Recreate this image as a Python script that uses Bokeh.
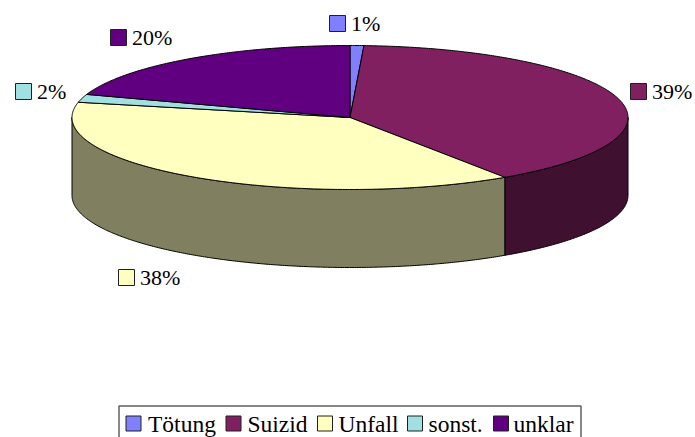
import numpy as np
from bokeh.embed import file_html
from bokeh.models import ColumnDataSource, Range1d
from bokeh.plotting import figure
from bokeh.resources import INLINE
from bokeh.core.properties import value

categories = ["Tötung", "Suizid", "Unfall", "sonst.", "unklar"]
shares = [0.8, 39.8, 37.8, 1.8, 19.8]
percent_labels = ["1%", "39%", "38%", "2%", "20%"]
top_colors = ["#8080FF", "#802060", "#FFFFC0", "#A0E0E0", "#600080"]
side_colors = ["#404080", "#401030", "#808060", "#507070", "#300040"]

# layout (reference pixels)
CX, CY, RX, RY, DEPTH = 349.5, 117.0, 278.0, 72.0, 78.0
SERIF = value("Liberation Serif")
FONT = "22px"
LEGEND_FONT = "23.5px"

p = figure(width=695, height=437, output_backend="svg", toolbar_location=None,
           x_range=Range1d(0, 695), y_range=Range1d(437, 0), min_border=0,
           outline_line_color=None, background_fill_color="white")
p.axis.visible = False
p.grid.visible = False


def arc(a, b, dy=0.0):
    t = np.radians(np.linspace(a, b, max(3, int(abs(b - a) * 2) + 2)))
    return CX + RX * np.sin(t), CY + dy - RY * np.cos(t)


edges = np.concatenate([[0], np.cumsum(shares)]) / np.sum(shares) * 360

# side walls of the front half
for i in range(len(shares)):
    a, b = max(edges[i], 90), min(edges[i + 1], 270)
    if b <= a:
        continue
    x1, y1 = arc(a, b)
    x2, y2 = arc(b, a, DEPTH)
    p.patch(np.r_[x1, x2], np.r_[y1, y2], fill_color=side_colors[i],
            line_color="#000000", line_width=1)

# top face
for i in range(len(shares)):
    x, y = arc(edges[i], edges[i + 1])
    p.patch(np.r_[CX, x], np.r_[CY, y], fill_color=top_colors[i],
            line_color="#000000", line_width=1)

# percent labels with their keys
label_x = [329, 630, 118, 15, 110]
label_y = [15, 83, 269, 83, 29]
KEY = 16
lab = ColumnDataSource(dict(
    left=label_x, right=[v + KEY for v in label_x],
    top=label_y, bottom=[v + KEY for v in label_y],
    tx=[v + KEY + 5.5 for v in label_x], ty=[v + KEY / 2 for v in label_y],
    text=percent_labels, color=top_colors))
p.quad(left="left", right="right", top="top", bottom="bottom", source=lab,
       fill_color="color", line_color="#202020", line_width=1)
p.text(x="tx", y="ty", text="text", source=lab, text_font=SERIF,
       text_font_size=FONT, text_color="#000000", text_baseline="middle",
       text_align="left")

# legend box, cut by the lower edge of the picture
p.quad(left=[118.5], right=[580.5], top=[405.5], bottom=[445],
       fill_color="white", line_color="#606060", line_width=1.5)
leg_x = [125.5, 225.5, 317, 407, 493]
leg_text_x = [147.5, 247, 338, 428, 513]
LEG_KEY = 15
leg = ColumnDataSource(dict(
    left=leg_x, right=[v + LEG_KEY for v in leg_x],
    top=[415.5] * 5, bottom=[415.5 + LEG_KEY] * 5,
    tx=leg_text_x, ty=[423] * 5, text=categories, color=top_colors))
p.quad(left="left", right="right", top="top", bottom="bottom", source=leg,
       fill_color="color", line_color="#202020", line_width=1)
p.text(x="tx", y="ty", text="text", source=leg, text_font=SERIF,
       text_font_size=LEGEND_FONT, text_color="#000000", text_baseline="middle",
       text_align="left")

open("out.html", "w").write(file_html(p, INLINE))
